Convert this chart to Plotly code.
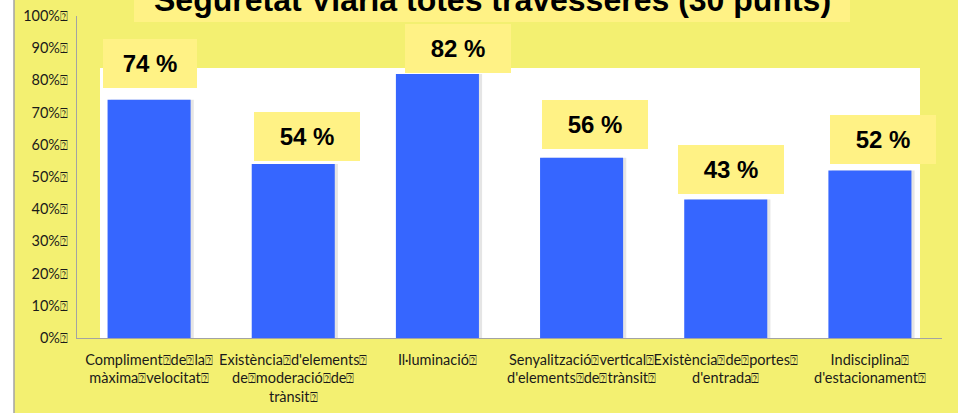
import plotly.graph_objects as go

# Road-safety indicators (share of the 30 points that pass each check)
Q = "<span style='font-size:13px'>⍰</span>"
categories = [
    f"Compliment{Q}de{Q}la{Q}<br>màxima{Q}velocitat{Q}",
    f"Existència{Q}d'elements{Q}<br>de{Q}moderació{Q}de{Q}<br>trànsit{Q}",
    f"Il·luminació{Q}",
    f"Senyalització{Q}vertical{Q}<br>d'elements{Q}de{Q}trànsit{Q}",
    f"Existència{Q}de{Q}portes{Q}<br>d'entrada{Q}",
    f"Indisciplina{Q}<br>d'estacionament{Q}",
]
values = [74, 54, 82, 56, 43, 52]
tick_values = [0, 10, 20, 30, 40, 50, 60, 70, 80, 90, 100]
tick_labels = [f"{v}%{Q}" for v in tick_values]
title_text = "Seguretat Viària totes travesseres (30 punts)"

BG = "#f3f071"
BOX = "#fff285"
BLUE = "#3666ff"
AXIS = "#a3a3a3"

# label box placement relative to each bar top (px): xshift, yshift, width
label_pos = [(1, 36, 94), (14, 28, 106), (21, 25, 106), (13, 33, 106), (5, 30, 106), (13, 31, 106)]

x_idx = list(range(len(categories)))
bar_w = 0.576

fig = go.Figure()
# soft shadow to the right of each bar
fig.add_trace(go.Bar(
    x=x_idx, y=values, width=bar_w, offset=-bar_w / 2 + 0.022,
    marker=dict(color="rgba(0,0,0,0.10)", line=dict(width=0)),
    hoverinfo="skip", showlegend=False,
))
fig.add_trace(go.Bar(
    x=x_idx, y=values, width=bar_w, offset=-bar_w / 2,
    marker=dict(color=BLUE, line=dict(width=0)),
    showlegend=False,
))

for i, v in enumerate(values):
    dx, dy, w = label_pos[i]
    fig.add_annotation(
        x=i, y=v, xref="x", yref="y", text=f"<b>{v} %</b>",
        showarrow=False, xshift=dx, yshift=dy,
        width=w, height=49, bgcolor=BOX, borderpad=0, borderwidth=0,
        font=dict(family="Liberation Sans, Arial", size=24, color="#000"),
        xanchor="center", yanchor="middle",
    )

# title banner, partly above the top edge
fig.add_shape(type="rect", xref="paper", yref="paper",
              x0=(134 - 77) / 865, x1=(850 - 77) / 865,
              y0=(338 - 22) / 322, y1=1.2,
              fillcolor=BOX, line=dict(width=0), layer="below")
fig.add_annotation(
    x=(492 - 77) / 865, y=(338 - 0) / 322, xref="paper", yref="paper",
    text=f"<b>{title_text}</b>", showarrow=False,
    xanchor="center", yanchor="middle",
    font=dict(family="Liberation Sans, Arial", size=32, color="#000"),
)

# white inner panel behind the bars
fig.add_shape(type="rect", xref="paper", yref="paper",
              x0=(100 - 77) / 865, x1=(920 - 77) / 865,
              y0=0, y1=(338 - 68) / 322,
              fillcolor="white", line=dict(width=0), layer="below")
# white strip and frame line on the far left
fig.add_shape(type="rect", xref="paper", yref="paper",
              x0=-0.1, x1=(14 - 77) / 865, y0=-0.3, y1=1.2,
              fillcolor="white", line=dict(width=0), layer="below")
fig.add_shape(type="line", xref="paper", yref="paper",
              x0=(14 - 77) / 865, x1=(14 - 77) / 865, y0=-0.3, y1=1.2,
              line=dict(color=AXIS, width=1.5))

fig.update_layout(
    width=958, height=413,
    margin=dict(l=77, r=16, t=16, b=75),
    paper_bgcolor=BG, plot_bgcolor=BG,
    barmode="overlay",
    font=dict(family="Lato, Liberation Sans, sans-serif", size=14, color="#1a1a1a"),
)
fig.update_xaxes(
    tickvals=x_idx, ticktext=categories, range=[-0.5, 5.5],
    showline=True, linecolor=AXIS, linewidth=1.2,
    showgrid=False, zeroline=False, ticks="",
    tickfont=dict(size=14.5), ticklabelstandoff=8,
    tickangle=0, automargin=False,
)
fig.update_yaxes(
    range=[0, 100], tickvals=tick_values, ticktext=tick_labels,
    showline=True, linecolor=AXIS, linewidth=1.2,
    showgrid=False, zeroline=False, ticks="",
    tickfont=dict(size=14.5), ticklabelstandoff=5, automargin=False,
)

fig.write_html("out.html")
